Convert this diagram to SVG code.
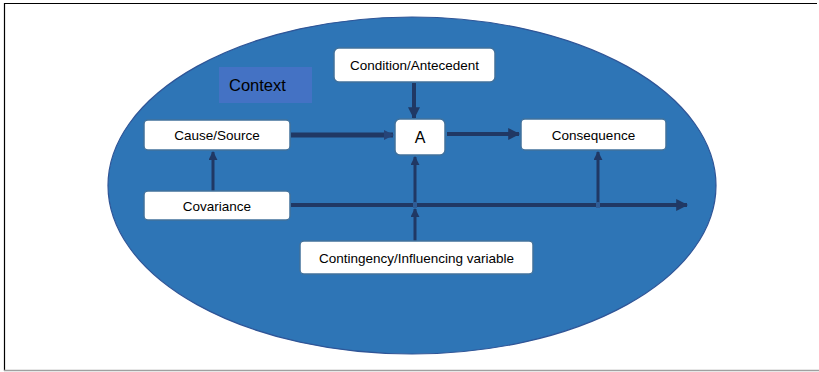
<svg xmlns="http://www.w3.org/2000/svg" width="819" height="372" viewBox="0 0 819 372">
<defs>
<style>
.box{fill:#fff;stroke:#41719C;stroke-width:1.5}
.lbl{font-family:"Liberation Sans","DejaVu Sans",sans-serif;font-size:13.5px;fill:#000;text-anchor:middle}
.big{font-size:16px}
.con{stroke:#203864;fill:none}
</style>
<marker id="ah" viewBox="0 0 10 10" refX="9" refY="5" markerWidth="3" markerHeight="3" orient="auto" markerUnits="strokeWidth"><path d="M0,0 L10,5 L0,10 z" fill="#203864"/></marker>
<marker id="ah2" viewBox="0 0 10 10" refX="9" refY="5" markerWidth="2" markerHeight="2.2" orient="auto" markerUnits="strokeWidth"><path d="M0,0 L10,5 L0,10 z" fill="#264478"/></marker>
</defs>
<rect x="0" y="0" width="819" height="372" fill="#fff"/>
<path d="M4.5,371 V3.5 H817" fill="none" stroke="#000" stroke-width="1.2"/>
<line x1="4" y1="370.5" x2="819" y2="370.5" stroke="#a0a0a0" stroke-width="1.5"/>
<ellipse id="context-ellipse" cx="412" cy="185.5" rx="304" ry="168.5" fill="#2E75B6" stroke="#2F5597" stroke-width="1.2"/>
<g id="context"><rect x="219" y="67" width="93" height="36" fill="#4472C4"/><text x="229" y="91" font-family="Liberation Sans,DejaVu Sans,sans-serif" font-size="16.5" fill="#000">Context</text></g>
<g id="connectors">
<line class="con" x1="291" y1="135" x2="393" y2="135" stroke="#264478" stroke-width="5" marker-end="url(#ah2)"/>
<line class="con" x1="414" y1="83" x2="414" y2="118" stroke-width="4" marker-end="url(#ah)"/>
<line class="con" x1="447" y1="134" x2="519" y2="134" stroke-width="4" marker-end="url(#ah)"/>
<line class="con" x1="213" y1="191" x2="213" y2="152" stroke-width="3" marker-end="url(#ah)"/>
<line class="con" x1="291" y1="205" x2="687" y2="205" stroke-width="4" marker-end="url(#ah)"/>
<line class="con" x1="415" y1="203" x2="415" y2="157" stroke-width="3" marker-end="url(#ah)"/>
<line class="con" x1="415" y1="241" x2="415" y2="209" stroke-width="3" marker-end="url(#ah)"/>
<line class="con" x1="598" y1="203" x2="598" y2="152" stroke-width="3" marker-end="url(#ah)"/>
<rect x="413" y="202" width="4" height="6" fill="#2E5C96"/>
<rect x="596" y="202" width="4" height="6" fill="#2E5C96"/>
</g>
<g id="condition"><rect class="box" x="334" y="48" width="161" height="34" rx="5" stroke="#2F5597" stroke-width="3"/><text class="lbl" x="414.5" y="70">Condition/Antecedent</text></g>
<g id="cause"><rect class="box" x="144" y="120" width="146" height="30" rx="4"/><text class="lbl" x="217" y="140">Cause/Source</text></g>
<g id="a"><rect class="box" x="395" y="119" width="50" height="36" rx="5"/><text class="lbl big" x="420" y="143">A</text></g>
<g id="consequence"><rect class="box" x="521" y="119" width="145" height="31" rx="4"/><text class="lbl" x="593.5" y="139.5">Consequence</text></g>
<g id="covariance"><rect class="box" x="144" y="191" width="146" height="29" rx="4"/><text class="lbl" x="217" y="210.5">Covariance</text></g>
<g id="contingency"><rect class="box" x="300" y="241" width="233" height="33" rx="4"/><text class="lbl" x="416.5" y="262.5">Contingency/Influencing variable</text></g>
</svg>
